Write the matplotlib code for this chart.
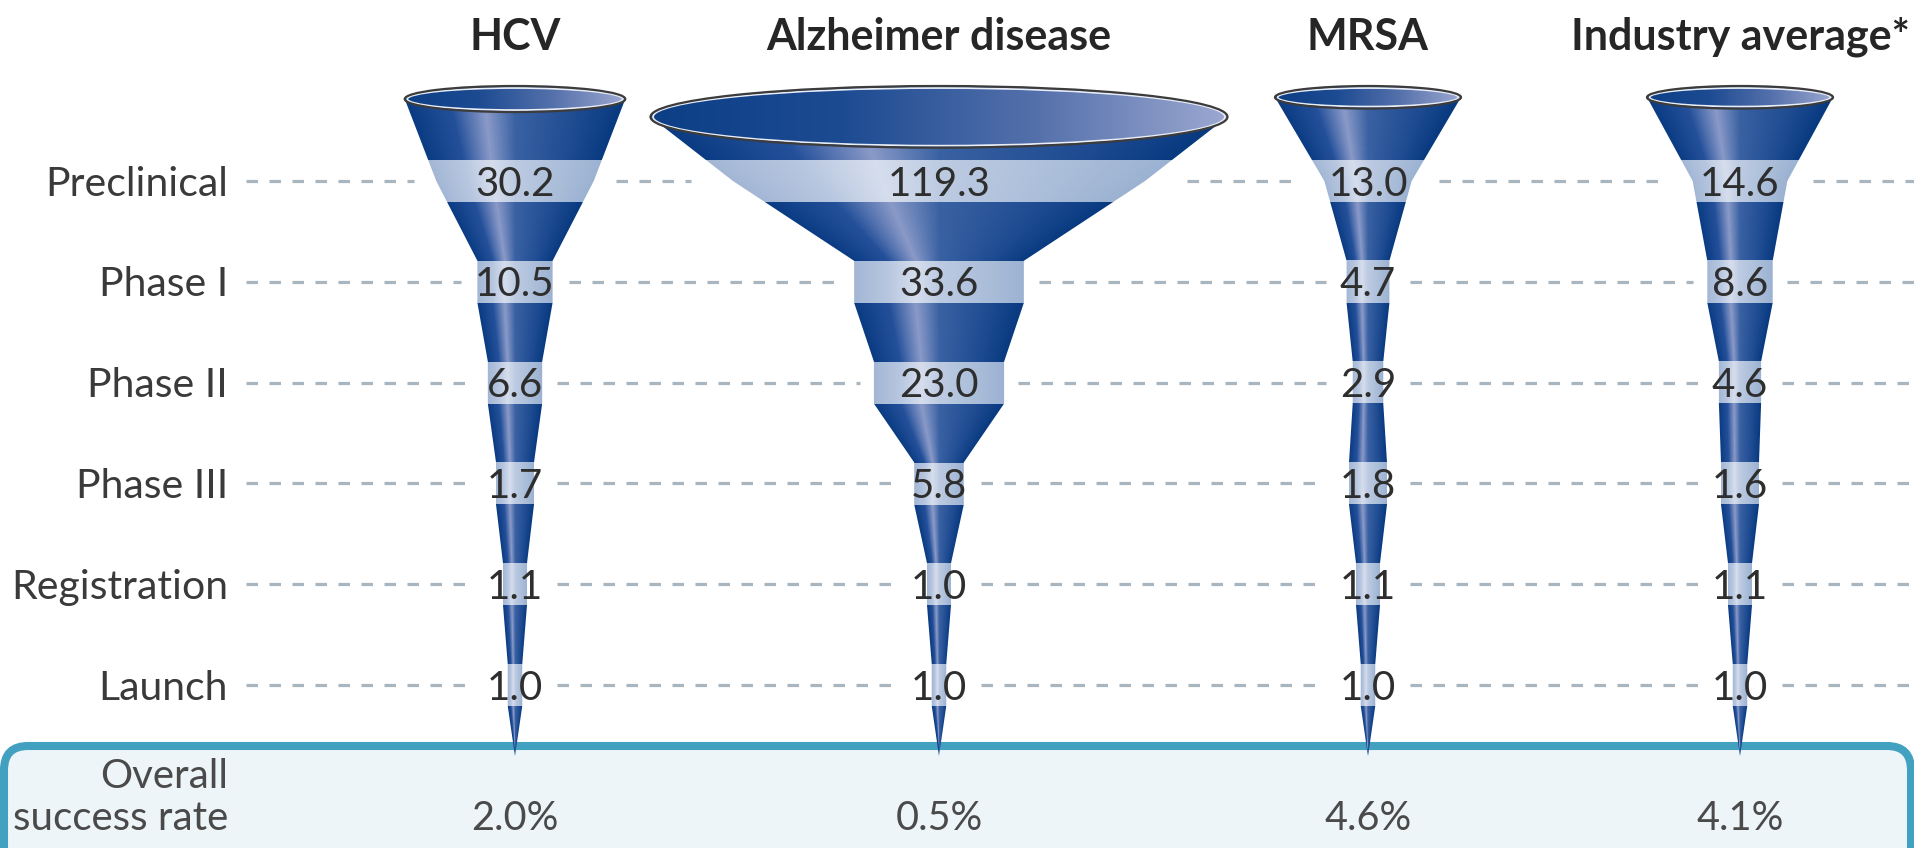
import numpy as np
import matplotlib.pyplot as plt
from matplotlib.patches import Polygon, Ellipse, FancyBboxPatch
from matplotlib.colors import LinearSegmentedColormap

plt.rcParams['font.family'] = ['Lato', 'DejaVu Sans']

# compounds needed at each stage to get one drug launched
diseases = ["HCV", "Alzheimer disease", "MRSA", "Industry average*"]
stages = ["Preclinical", "Phase I", "Phase II", "Phase III", "Registration", "Launch"]
hcv = [30.2, 10.5, 6.6, 1.7, 1.1, 1.0]
alzheimer = [119.3, 33.6, 23.0, 5.8, 1.0, 1.0]
mrsa = [13.0, 4.7, 2.9, 1.8, 1.1, 1.0]
industry = [14.6, 8.6, 4.6, 1.6, 1.1, 1.0]
success_rate = [2.0, 0.5, 4.6, 4.1]

series = [hcv, alzheimer, mrsa, industry]

# layout in pixels
W, H = 1915, 848
col_x = [515, 939, 1368, 1740]
row_y = [181 + 100.8 * i for i in range(len(stages))]
band_h = 42
tip_y = 756
tail = [0, 0, 0, 38, 24, 0]   # minimum width so the spout tapers smoothly

txt_col = '#2e2e2e'
lbl_col = '#3a3a3a'
grey_col = '#4a4a4a'

dark = LinearSegmentedColormap.from_list('dark', [
    (0, '#0b3c83'), (0.2, '#24509a'), (0.36, '#8a9ac8'), (0.5, '#3a62a3'),
    (0.82, '#1c4990'), (1, '#083a80')])
light = LinearSegmentedColormap.from_list('light', [
    (0, '#a3b7d5'), (0.2, '#b8c7e0'), (0.36, '#d6deed'), (0.5, '#bdcbe2'),
    (0.82, '#a8bcd8'), (1, '#9cb2d2')])
rim_cmap = LinearSegmentedColormap.from_list('rim', [
    '#0c3f86', '#1d4b92', '#5470ab', '#9ca8d1'])


def stage_width(v, i):
    return max(14.5 * v ** 0.7, tail[i])


fig = plt.figure(figsize=(W / 100, H / 100), dpi=100)
ax = fig.add_axes([0, 0, 1, 1])
ax.set_xlim(0, W)
ax.set_ylim(H, 0)
ax.axis('off')

# bottom panel
box = FancyBboxPatch((4, 746), W - 8, 220, boxstyle='round,pad=0,rounding_size=24',
                     facecolor='#edf5f8', edgecolor='#42a0c0', linewidth=5.8, zorder=1)
ax.add_patch(box)

profiles = []
for j, vals in enumerate(series):
    cx = col_x[j]
    ws = [stage_width(v, i) for i, v in enumerate(vals)]
    rim_w = max(186, 1.4 * ws[0])
    rim_h = 0.1 * rim_w + 4
    rim_y = 86 + rim_h / 2

    node_y = [rim_y, row_y[0]]
    node_w = [rim_w, ws[0]]
    for i in range(1, len(vals)):
        node_y += [row_y[i] - band_h / 2, row_y[i] + band_h / 2]
        node_w += [ws[i], ws[i]]
    node_y.append(tip_y)
    node_w.append(0)
    profiles.append((node_y, node_w))

    # outline of the funnel body
    ys = np.unique(np.concatenate([np.linspace(rim_y, tip_y, 300), node_y]))
    hw = np.interp(ys, node_y, node_w) / 2
    pts = np.vstack([np.column_stack([cx - hw, ys]),
                     np.column_stack([cx + hw, ys])[::-1]])
    body = Polygon(pts, closed=True, facecolor='none', edgecolor='none', zorder=3)
    ax.add_patch(body)

    # shaded body with light bands at each stage
    xs = np.arange(cx - rim_w / 2 - 3, cx + rim_w / 2 + 3, 1.0) + 0.5
    yy = np.arange(rim_y - 1, tip_y + 1, 1.0) + 0.5
    HW = np.interp(yy, node_y, node_w) / 2
    U = (xs[None, :] - (cx - HW[:, None])) / (2 * HW[:, None] + 1e-9)
    U = np.clip(U, 0, 1)
    in_band = np.zeros_like(yy, dtype=bool)
    for r in row_y:
        in_band |= np.abs(yy - r) <= band_h / 2
    img = np.where(in_band[:, None, None], light(U), dark(U))
    im = ax.imshow(img, extent=(xs[0] - 0.5, xs[-1] + 0.5, yy[-1] + 0.5, yy[0] - 0.5),
                   interpolation='bilinear', zorder=3, aspect='auto')
    im.set_clip_path(body)

    # rim of the funnel
    rim = Ellipse((cx, rim_y), rim_w, rim_h, facecolor='none', edgecolor='none', zorder=4)
    ax.add_patch(rim)
    grad = rim_cmap(np.linspace(0, 1, 256))[None, :, :]
    rim_im = ax.imshow(grad, extent=(cx - rim_w / 2, cx + rim_w / 2,
                                     rim_y + rim_h / 2, rim_y - rim_h / 2),
                       interpolation='bilinear', zorder=4, aspect='auto')
    rim_im.set_clip_path(rim)
    ax.add_patch(Ellipse((cx, rim_y), rim_w - 5, rim_h - 4, facecolor='none',
                         edgecolor='#e9edf6', linewidth=1.3, zorder=5))
    ax.add_patch(Ellipse((cx, rim_y), rim_w, rim_h, facecolor='none',
                         edgecolor='#3c3c3c', linewidth=1.6, zorder=5))

    # header and overall success rate
    ax.text(cx, 37, diseases[j], ha='center', va='center', fontsize=31,
            fontweight='bold', color='#262626')
    ax.text(cx, 819, f"{success_rate[j]:.1f}%", ha='center', va='center',
            fontsize=28.5, color=grey_col, zorder=6)

value_texts = []
for j, vals in enumerate(series):
    row = []
    for i, v in enumerate(vals):
        t = ax.text(col_x[j], row_y[i] + 3, f"{v:.1f}", ha='center', va='center',
                    fontsize=29, color=txt_col, zorder=6)
        row.append(t)
    value_texts.append(row)

for i, s in enumerate(stages):
    ax.text(228, row_y[i] + 3, s, ha='right', va='center', fontsize=29.5, color=lbl_col)

ax.text(228, 777, "Overall", ha='right', va='center', fontsize=29, color=grey_col, zorder=6)
ax.text(228, 819, "success rate", ha='right', va='center', fontsize=29, color=grey_col, zorder=6)

# dashed guides, broken around each funnel and its value
fig.canvas.draw()
renderer = fig.canvas.get_renderer()
gap = 14
for i in range(len(stages)):
    edges = [246]
    for j in range(len(series)):
        node_y, node_w = profiles[j]
        near = np.interp(np.linspace(row_y[i] - 22, row_y[i] + 8, 16), node_y, node_w)
        tw = value_texts[j][i].get_window_extent(renderer).width
        half = max(near.max() / 2, tw / 2) + gap
        edges += [col_x[j] - half, col_x[j] + half]
    edges.append(W)
    for a, b in zip(edges[::2], edges[1::2]):
        if b > a:
            ax.plot([a, b], [row_y[i], row_y[i]], color='#a9b6bf', linewidth=2.3,
                    dashes=(3.6, 3.6), solid_capstyle='butt', zorder=2)

fig.savefig('out.png', dpi=100)
